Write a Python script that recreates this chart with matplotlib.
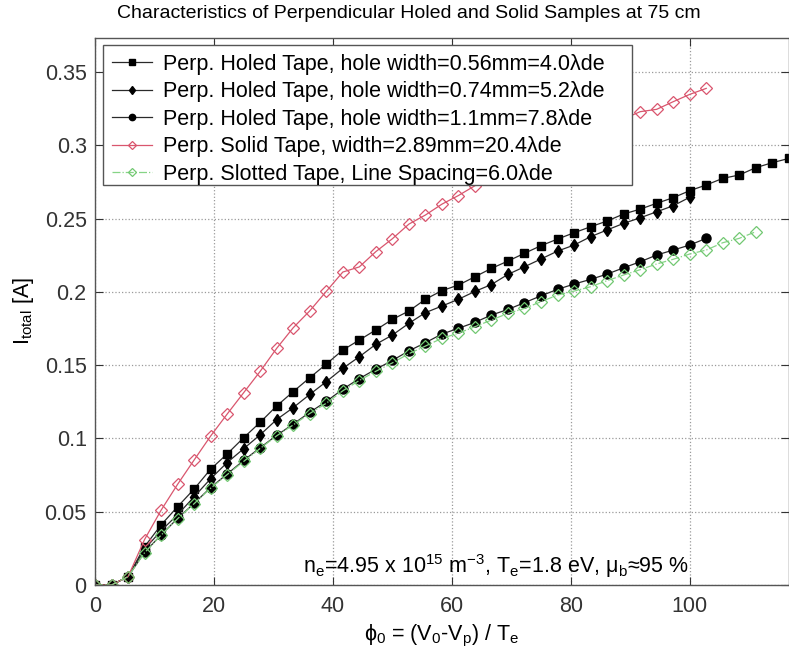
"""Probe current vs normalized bias for perpendicular holed / solid / slotted tapes."""

import matplotlib
matplotlib.use("Agg")
import matplotlib.pyplot as plt
from matplotlib.patches import Rectangle

# normalized bias phi0 = (V0 - Vp) / Te, one entry per 5 V step
phi = [0.0, 2.78, 5.56, 8.33, 11.11, 13.89, 16.67, 19.44, 22.22, 25.0,
       27.78, 30.56, 33.33, 36.11, 38.89, 41.67, 44.44, 47.22, 50.0, 52.78,
       55.56, 58.33, 61.11, 63.89, 66.67, 69.44, 72.22, 75.0, 77.78, 80.56,
       83.33, 86.11, 88.89, 91.67, 94.44, 97.22, 100.0, 102.78, 105.56, 108.33,
       111.11, 113.89, 116.67]

# I_total [A]
holed_056 = [0, 0, 0.0057, 0.0261, 0.041, 0.0534, 0.0655, 0.079, 0.0894, 0.1005,
             0.111, 0.1222, 0.1319, 0.1414, 0.1507, 0.1603, 0.1671, 0.174, 0.1812, 0.1869,
             0.1949, 0.2008, 0.2046, 0.2103, 0.216, 0.221, 0.2263, 0.2315, 0.236, 0.2403,
             0.2444, 0.2483, 0.2531, 0.2564, 0.2604, 0.2642, 0.269, 0.2729, 0.2774, 0.2797,
             0.2847, 0.2881, 0.291]
holed_074 = [0, 0, 0.0057, 0.0245, 0.037, 0.048, 0.0602, 0.0725, 0.0835, 0.093,
             0.1025, 0.1129, 0.121, 0.130, 0.1387, 0.1478, 0.1557, 0.1642, 0.1705, 0.1785,
             0.1858, 0.1903, 0.1949, 0.2003, 0.205, 0.2119, 0.2171, 0.2224, 0.2278, 0.2319,
             0.2376, 0.2422, 0.2467, 0.2505, 0.2546, 0.2587, 0.2645]
holed_11 = [0, 0, 0.0057, 0.0223, 0.0341, 0.0455, 0.0557, 0.0665, 0.0757, 0.085,
            0.0937, 0.1021, 0.1098, 0.1178, 0.1252, 0.1336, 0.1408, 0.1472, 0.1532, 0.1597,
            0.1653, 0.1712, 0.1751, 0.1792, 0.1842, 0.188, 0.1926, 0.1973, 0.2017, 0.2053,
            0.2085, 0.2121, 0.2164, 0.2205, 0.2251, 0.2285, 0.2319, 0.2365]
solid = [0, 0, 0.0057, 0.031, 0.051, 0.0687, 0.0853, 0.1016, 0.1166, 0.1312,
         0.1458, 0.1615, 0.1755, 0.187, 0.2003, 0.2135, 0.217, 0.2274, 0.2362, 0.2462,
         0.2524, 0.2598, 0.2657, 0.2724, 0.278, 0.283, 0.288, 0.293, 0.298, 0.303,
         0.308, 0.313, 0.318, 0.3229, 0.3245, 0.3297, 0.3347, 0.3388]
slotted = [0, 0, 0.0057, 0.022, 0.034, 0.0452, 0.0555, 0.066, 0.0753, 0.0843,
           0.0932, 0.1018, 0.1092, 0.117, 0.124, 0.1325, 0.1395, 0.1458, 0.1515, 0.1578,
           0.163, 0.1683, 0.1718, 0.1762, 0.1808, 0.1853, 0.1887, 0.1933, 0.1978, 0.2005,
           0.2035, 0.2076, 0.2115, 0.2151, 0.219, 0.2222, 0.2258, 0.2285, 0.2335, 0.2365,
           0.241]

labels = [
    "Perp. Holed Tape, hole width=0.56mm=4.0\u03bbde",
    "Perp. Holed Tape, hole width=0.74mm=5.2\u03bbde",
    "Perp. Holed Tape, hole width=1.1mm=7.8\u03bbde",
    "Perp. Solid Tape, width=2.89mm=20.4\u03bbde",
    "Perp. Slotted Tape, Line Spacing=6.0\u03bbde",
]
x_ticks = [0, 20, 40, 60, 80, 100]
y_ticks = [0, 0.05, 0.1, 0.15, 0.2, 0.25, 0.3, 0.35]
y_tick_labels = ["0", "0.05", "0.1", "0.15", "0.2", "0.25", "0.3", "0.35"]

plt.rcParams["font.family"] = ["Liberation Sans", "DejaVu Sans"]
plt.rcParams["mathtext.fontset"] = "custom"
plt.rcParams["mathtext.rm"] = "Liberation Sans"
plt.rcParams["mathtext.it"] = "Liberation Sans"
plt.rcParams["mathtext.sf"] = "Liberation Sans"

fig = plt.figure(figsize=(7.89, 6.49), dpi=100)
ax = fig.add_axes([0.1204, 0.0986, 0.8796, 0.8436])

black = "#2a2a2a"
red = "#d9566e"
ax.plot(phi[:len(holed_056)], holed_056, "-", color=black, lw=0.9,
        marker="s", ms=5.5, mfc="black", mec="black", label=labels[0])
ax.plot(phi[:len(holed_074)], holed_074, "-", color=black, lw=0.9,
        marker="d", ms=6.5, mfc="black", mec="black", label=labels[1])
ax.plot(phi[:len(holed_11)], holed_11, "-", color=black, lw=0.9,
        marker="o", ms=6.5, mfc="black", mec="black", label=labels[2])
ax.plot(phi[:len(solid)], solid, "-", color=red, lw=0.9,
        marker="D", ms=5.8, mfc="none", mec=red, mew=0.9, label=labels[3])
ax.plot(phi[:len(slotted)], slotted, "-.", color="#86d486", lw=0.9,
        marker="D", ms=5.8, mfc="none", mec="#72c872", mew=0.9, label=labels[4])

ax.set_xlim(0, 116.7)
ax.set_ylim(0, 0.3735)
ax.set_xticks(x_ticks)
ax.set_yticks(y_ticks, y_tick_labels)
ax.tick_params(direction="in", length=6, width=0.8, top=True, right=True,
               labelsize=15.5, pad=8, colors="#333333")
ax.tick_params(axis="y", pad=6)
ax.grid(True, linestyle=":", color="#9a9a9a", linewidth=0.9)
for sp in ax.spines.values():
    sp.set_color("#555555")
    sp.set_linewidth(1.0)

# the original title sits left of the axes centre (figure was cropped on the right)
fig.text(409 / 789, 1 - 14 / 649,
         "Characteristics of Perpendicular Holed and Solid Samples at 75 cm",
         fontsize=14, ha="center", va="center")
ax.set_xlabel(r"$\mathregular{\phi_0}$ = (V$_\mathregular{0}$-V$_\mathregular{p}$) / T$_\mathregular{e}$",
              fontsize=15.5, labelpad=4)
ax.set_ylabel(r"I$_\mathregular{total}$ [A]", fontsize=15.5, labelpad=6)

ax.text(34.9, 0.0085,
        r"n$_\mathregular{e}$=4.95 x 10$^\mathregular{15}$ m$^\mathregular{-3}$, "
        r"T$_\mathregular{e}$=1.8 eV, $\mathregular{\mu}_\mathregular{b}$" + "\u224895 %",
        fontsize=15.5, ha="left", va="baseline")

# MATLAB-style legend box: wider on the right than matplotlib would make it
ax.add_patch(Rectangle((0.0115, 0.7315), 0.7622, 0.2545, transform=ax.transAxes,
                       facecolor="white", edgecolor="#555555", lw=1.0, zorder=4))
leg = ax.legend(loc="upper left", bbox_to_anchor=(0.0115, 0.986), borderaxespad=0,
                fontsize=15.5, handlelength=1.9, handletextpad=0.5, labelspacing=0.3,
                borderpad=0.4, frameon=False, markerscale=0.7)
leg.set_zorder(5)

fig.savefig("out.png", dpi=100)
